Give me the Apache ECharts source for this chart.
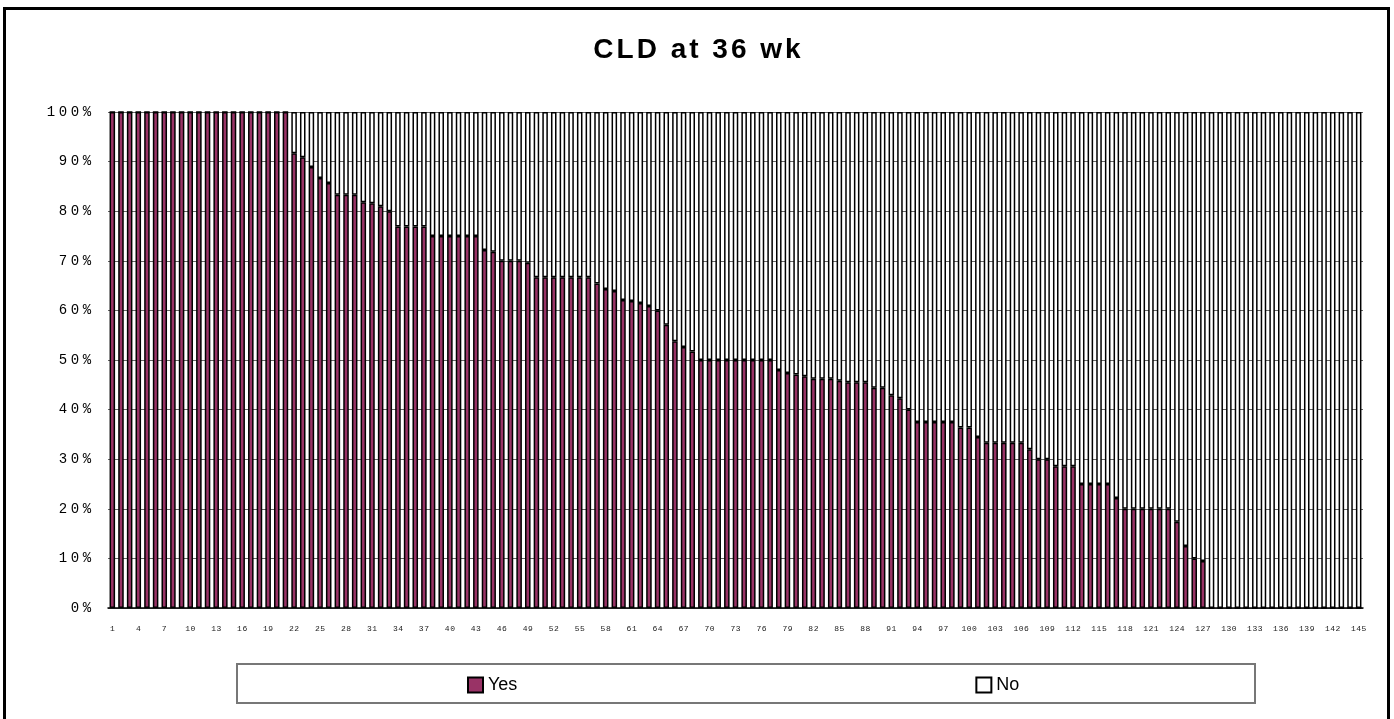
<!DOCTYPE html>
<html>
<head>
<meta charset="utf-8">
<script src="https://cdn.jsdelivr.net/npm/echarts@6/dist/echarts.min.js"></script>
<style>
  html, body { margin: 0; padding: 0; background: #fff; }
  #chart { width: 1394px; height: 719px; }
</style>
</head>
<body>
<div id="chart"></div>
<script>
// Share of patients with CLD at 36 weeks, one bar per centre (1..145)
const categories = [];
for (let i = 1; i <= 145; i++) categories.push(String(i));

// "Yes" percentages, read per centre
const yesValues = [
  100, 100, 100, 100, 100, 100, 100, 100, 100, 100,
  100, 100, 100, 100, 100, 100, 100, 100, 100, 100,
  100, 91.7, 90.9, 88.9, 86.7, 85.7, 83.3, 83.3, 83.3, 81.8,
  81.6, 81.0, 80.0, 76.9, 76.9, 76.9, 76.9, 75.0, 75.0, 75.0,
  75.0, 75.0, 75.0, 72.2, 71.8, 70.0, 70.0, 70.0, 69.6, 66.7,
  66.7, 66.7, 66.7, 66.7, 66.7, 66.7, 65.4, 64.3, 63.9, 62.1,
  61.9, 61.5, 60.9, 60.0, 57.1, 53.8, 52.6, 51.7, 50.0, 50.0,
  50.0, 50.0, 50.0, 50.0, 50.0, 50.0, 50.0, 48.0, 47.4, 47.1,
  46.7, 46.2, 46.2, 46.2, 45.8, 45.5, 45.5, 45.5, 44.4, 44.4,
  42.9, 42.3, 40.0, 37.5, 37.5, 37.5, 37.5, 37.5, 36.4, 36.4,
  34.5, 33.3, 33.3, 33.3, 33.3, 33.3, 32.0, 30.0, 30.0, 28.6,
  28.6, 28.6, 25.0, 25.0, 25.0, 25.0, 22.2, 20.0, 20.0, 20.0,
  20.0, 20.0, 20.0, 17.4, 12.5, 10.0, 9.5, 0, 0, 0,
  0, 0, 0, 0, 0, 0, 0, 0, 0, 0,
  0, 0, 0, 0, 0
];
// "No" is the remainder of each 100% bar
const noValues = yesValues.map(v => +(100 - v).toFixed(1));

const yTicks = ['0%', '10%', '20%', '30%', '40%', '50%', '60%', '70%', '80%', '90%', '100%'];
const titleText = 'CLD at 36 wk';

// Split a string into one rich segment per character so glyphs get even spacing
function spaced(str, key) {
  return str.split('').map(ch => '{' + key + '|' + (ch === ' ' ? '\u00a0' : ch) + '}').join('');
}

const MONO = 'Liberation Mono, DejaVu Sans Mono, monospace';
const SANS = 'Liberation Sans, Arial, sans-serif';

const chart = echarts.init(document.getElementById('chart'), null, { renderer: 'canvas' });

const barCommon = {
  type: 'bar',
  stack: 'total',
  barCategoryGap: '36%',
  animation: false
};

chart.setOption({
  animation: false,
  backgroundColor: '#ffffff',
  title: {
    text: spaced(titleText, 't'),
    left: 'center',
    top: 31,
    textStyle: {
      rich: {
        t: {
          fontFamily: SANS,
          fontWeight: 'bold',
          fontSize: 28,
          color: '#000',
          padding: [0, 1.5, 0, 1.5]
        }
      }
    }
  },
  grid: {
    left: 108,
    right: 31,
    top: 112,
    bottom: 111,
    containLabel: false
  },
  xAxis: {
    type: 'category',
    data: categories,
    axisLine: { show: true, lineStyle: { color: '#000', width: 1.5 } },
    axisTick: { show: false },
    axisLabel: {
      interval: 2,
      margin: 17,
      formatter: (v) => spaced(v, 'c'),
      rich: {
        c: { fontFamily: MONO, fontSize: 8, color: '#222', width: 5.3, align: 'center' }
      }
    },
    splitLine: { show: false }
  },
  yAxis: {
    type: 'value',
    min: 0,
    max: 100,
    interval: 10,
    axisLine: { show: false },
    axisTick: { show: false },
    axisLabel: {
      margin: 15,
      formatter: (v) => spaced(yTicks[Math.round(v / 10)], 'c'),
      rich: {
        c: { fontFamily: MONO, fontSize: 14, color: '#000', width: 12, align: 'center' }
      }
    },
    splitLine: { show: true, lineStyle: { color: '#666', width: 1 } }
  },
  legend: {
    top: 676,
    left: 467,
    padding: 0,
    itemGap: 458,
    itemWidth: 15,
    itemHeight: 15,
    icon: 'rect',
    textStyle: {
      fontFamily: SANS,
      fontSize: 18,
      color: '#000'
    },
    data: [
      { name: 'Yes', itemStyle: { color: '#993366', borderColor: '#000', borderWidth: 2 } },
      { name: 'No', itemStyle: { color: '#ffffff', borderColor: '#000', borderWidth: 2 } }
    ]
  },
  graphic: [
    {
      type: 'rect',
      z: -1,
      shape: { x: 237, y: 664, width: 1018, height: 39 },
      style: { fill: '#fff', stroke: '#777', lineWidth: 2 }
    },
    {
      type: 'rect',
      z: 100,
      silent: true,
      shape: { x: 4.5, y: 8.5, width: 1384, height: 720 },
      style: { fill: 'none', stroke: '#000', lineWidth: 3 }
    }
  ],
  series: [
    Object.assign({}, barCommon, {
      name: 'Yes',
      data: yesValues,
      itemStyle: { color: '#993366', borderColor: '#000', borderWidth: 1.5 }
    }),
    Object.assign({}, barCommon, {
      name: 'No',
      data: noValues,
      itemStyle: { color: '#ffffff', borderColor: '#000', borderWidth: 1.5 }
    })
  ]
});
</script>
</body>
</html>
